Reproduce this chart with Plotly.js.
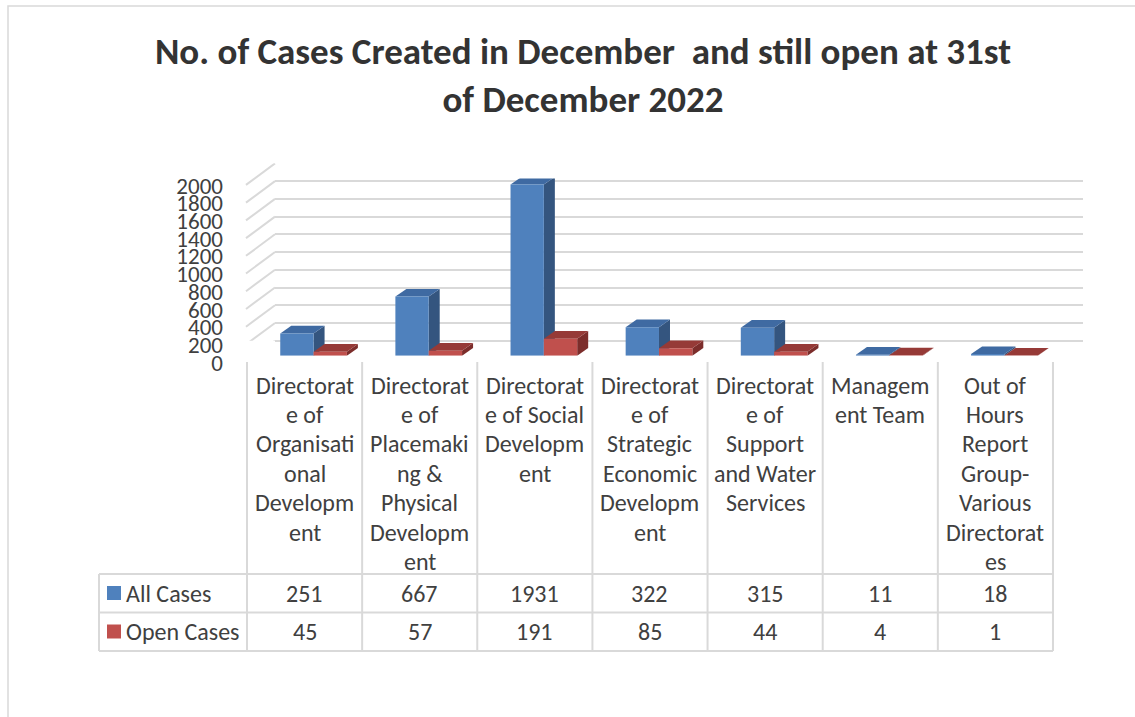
<!DOCTYPE html>
<html>
<head>
<meta charset="utf-8">
<script src="https://cdn.plot.ly/plotly-3.0.1.min.js"></script>
<style>
  html, body { margin: 0; padding: 0; background: #ffffff; }
  #chart { width: 1135px; height: 717px; }
</style>
</head>
<body>
<div id="chart"></div>
<script>
// ---------------- data ----------------
const categories = [
  'Directorate of Organisational Development',
  'Directorate of Placemaking & Physical Development',
  'Directorate of Social Development',
  'Directorate of Strategic Economic Development',
  'Directorate of Support and Water Services',
  'Management Team',
  'Out of Hours Report Group-Various Directorates'
];
// category labels as wrapped in the data table
const categoryLabels = [
  'Directorat<br>e of<br>Organisati<br>onal<br>Developm<br>ent',
  'Directorat<br>e of<br>Placemaki<br>ng &<br>Physical<br>Developm<br>ent',
  'Directorat<br>e of Social<br>Developm<br>ent',
  'Directorat<br>e of<br>Strategic<br>Economic<br>Developm<br>ent',
  'Directorat<br>e of<br>Support<br>and Water<br>Services',
  'Managem<br>ent Team',
  'Out of<br>Hours<br>Report<br>Group-<br>Various<br>Directorat<br>es'
];
const seriesNames = ['All Cases', 'Open Cases'];
const allCases  = [251, 667, 1931, 322, 315, 11, 18];
const openCases = [45, 57, 191, 85, 44, 4, 1];
const yTickVals = [0, 200, 400, 600, 800, 1000, 1200, 1400, 1600, 1800, 2000];

const titleText = 'No. of Cases Created in December  and still open at 31st<br>of December 2022';

// ---------------- styling / layout helpers ----------------
const W = 1135, H = 717;
const fx = p => p / W;
const fy = p => (H - p) / H;
const FONT = 'Carlito, Lato, "Open Sans", sans-serif';
const TXT = '#404040';
const GRID = '#d9d9d9';

const colors = {
  front: ['#4f81bd', '#c0504d'],
  top:   ['#3f6aa2', '#963a37'],
  side:  ['#34557f', '#7c2d2b']
};

// geometry of plot / table (pixels)
const tableLeft = 99, tableX0 = 247, colW = 115.14, nCat = categories.length;
const tableX1 = tableX0 + colW * nCat;
const headerTop = 362, row1Top = 574, row2Top = 612.5, tableBottom = 651;

// bars subplot
const barX0 = 256, barX1 = barX0 + colW * nCat;
const barY0 = 355.7, barY1 = 178.5;   // pixel of 0 and 2000
// back wall subplot
const wallX0 = 275, wallX1 = 1083;
const wallY0 = 340.7, wallY1 = 163.3;

const bargap = 0.421;
const barW = (1 - bargap) / 2;            // in category units
const barPx = barW * (barX1 - barX0) / nCat;
const pxPerUnit = (barY0 - barY1) / 2000;
const depthX = 11, depthY = 7.7;

// ---------------- traces ----------------
const traces = [
  // back wall grid subplot (no data marks)
  { type: 'scatter', x: [], y: [], xaxis: 'x', yaxis: 'y', showlegend: false, hoverinfo: 'skip' },
  { type: 'bar', name: seriesNames[0], x: categories, y: allCases, xaxis: 'x2', yaxis: 'y2',
    marker: { color: colors.front[0], line: { width: 0 } }, showlegend: false, hoverinfo: 'x+y' },
  { type: 'bar', name: seriesNames[1], x: categories, y: openCases, xaxis: 'x2', yaxis: 'y2',
    marker: { color: colors.front[1], line: { width: 0 } }, showlegend: false, hoverinfo: 'x+y' }
];

// ---------------- shapes ----------------
const shapes = [];
// chart outer border
shapes.push({ type: 'rect', xref: 'paper', yref: 'paper', x0: fx(8), x1: fx(1180), y0: fy(760), y1: fy(6),
  line: { color: GRID, width: 1.5 }, fillcolor: 'rgba(0,0,0,0)', layer: 'below' });

// left wall diagonal lines at each gridline value
yTickVals.forEach(v => {
  shapes.push({ type: 'line', xref: 'paper', xsizemode: 'pixel', xanchor: fx(wallX0), x0: -29, x1: 0,
    yref: 'y', ysizemode: 'pixel', yanchor: v, y0: -21.5, y1: 0,
    line: { color: GRID, width: 2 } });
});

// 3D faces of the bars (side and top), anchored on the data values
const series = [allCases, openCases];
const depthData = depthY / pxPerUnit;
for (let i = 0; i < nCat; i++) {
  for (let s = 0; s < 2; s++) {
    const v = series[s][i];
    const left = i - barW + s * barW;   // left edge of bar in category units
    // side face
    shapes.push({ type: 'path', xref: 'x2', yref: 'y2', xsizemode: 'pixel', xanchor: left,
      path: `M ${barPx},0 L ${barPx},${v} L ${barPx + depthX},${v + depthData} L ${barPx + depthX},${depthData} Z`,
      fillcolor: colors.side[s], line: { width: 0 }, layer: 'below' });
    // top face
    shapes.push({ type: 'path', xref: 'x2', yref: 'y2', xsizemode: 'pixel', xanchor: left,
      ysizemode: 'pixel', yanchor: v,
      path: `M 0,0 L ${barPx},0 L ${barPx + depthX},${depthY} L ${depthX},${depthY} Z`,
      fillcolor: colors.top[s], line: { width: 0 }, layer: 'below' });
  }
}

// data table grid lines
for (let k = 0; k <= nCat; k++) {
  const x = tableX0 + colW * k;
  shapes.push({ type: 'line', xref: 'paper', yref: 'paper', x0: fx(x), x1: fx(x), y0: fy(headerTop), y1: fy(tableBottom),
    line: { color: GRID, width: 2 } });
}
shapes.push({ type: 'line', xref: 'paper', yref: 'paper', x0: fx(tableLeft), x1: fx(tableLeft), y0: fy(row1Top), y1: fy(tableBottom),
  line: { color: GRID, width: 2 } });
[row1Top, row2Top, tableBottom].forEach(y => {
  shapes.push({ type: 'line', xref: 'paper', yref: 'paper', x0: fx(tableLeft), x1: fx(tableX1), y0: fy(y), y1: fy(y),
    line: { color: GRID, width: 2 } });
});
// legend keys in the table
const rowCenters = [593, 631.5];
rowCenters.forEach((yc, s) => {
  shapes.push({ type: 'rect', xref: 'paper', yref: 'paper', x0: fx(107), x1: fx(121), y0: fy(yc + 7), y1: fy(yc - 7),
    fillcolor: colors.front[s], line: { width: 0 } });
});

// ---------------- annotations (data table text) ----------------
const annotations = [];
const tFont = { family: FONT, size: 24, color: TXT };
categoryLabels.forEach((lab, i) => {
  const xc = tableX0 + colW * (i + 0.5);
  lab.split('<br>').forEach((line, j) => {
    annotations.push({ xref: 'paper', yref: 'paper', x: fx(xc), y: fy(385 + 29.4 * j), text: line,
      showarrow: false, xanchor: 'center', yanchor: 'middle', font: tFont });
  });
  series.forEach((vals, s) => {
    annotations.push({ xref: 'paper', yref: 'paper', x: fx(xc), y: fy(rowCenters[s]), text: String(vals[i]),
      showarrow: false, xanchor: 'center', yanchor: 'middle', font: tFont });
  });
});
seriesNames.forEach((n, s) => {
  annotations.push({ xref: 'paper', yref: 'paper', x: fx(124), y: fy(rowCenters[s]), text: n,
    showarrow: false, xanchor: 'left', yanchor: 'middle', font: tFont });
});

// ---------------- layout ----------------
const layout = {
  width: W, height: H,
  margin: { l: 0, r: 0, t: 0, b: 0 },
  paper_bgcolor: '#ffffff', plot_bgcolor: 'rgba(0,0,0,0)',
  showlegend: false,
  barmode: 'group', bargap: bargap, bargroupgap: 0,
  title: { text: titleText, x: fx(583), xanchor: 'center', xref: 'paper', y: fy(63.5), yref: 'container', yanchor: 'middle',
    font: { family: FONT, size: 37, color: '#333333', weight: 'bold' } },
  xaxis: { domain: [fx(wallX0), fx(wallX1)], range: [0, 1], showgrid: false, zeroline: false,
    showticklabels: false, showline: false, ticks: '', fixedrange: true },
  yaxis: { domain: [fy(wallY0), fy(wallY1)], range: [0, 2001], tickvals: yTickVals, showgrid: true,
    gridcolor: GRID, gridwidth: 2, zeroline: true, zerolinecolor: GRID, zerolinewidth: 2,
    showticklabels: false, ticks: '', showline: false, fixedrange: true },
  xaxis2: { domain: [fx(barX0), fx(barX1)], anchor: 'y2', type: 'category', range: [-0.5, nCat - 0.5],
    showgrid: false, zeroline: false, showline: false, showticklabels: false, ticks: '', fixedrange: true },
  yaxis2: { domain: [fy(barY0), fy(barY1)], anchor: 'x2', range: [0, 2000], tickvals: yTickVals,
    showgrid: false, zeroline: false, showline: false, ticks: '',
    ticklabelshift: 7, ticklabelstandoff: 32,
    tickfont: { family: FONT, size: 23, color: TXT }, fixedrange: true },
  shapes: shapes,
  annotations: annotations
};

Plotly.newPlot('chart', traces, layout, { displayModeBar: false, staticPlot: true });
</script>
</body>
</html>
